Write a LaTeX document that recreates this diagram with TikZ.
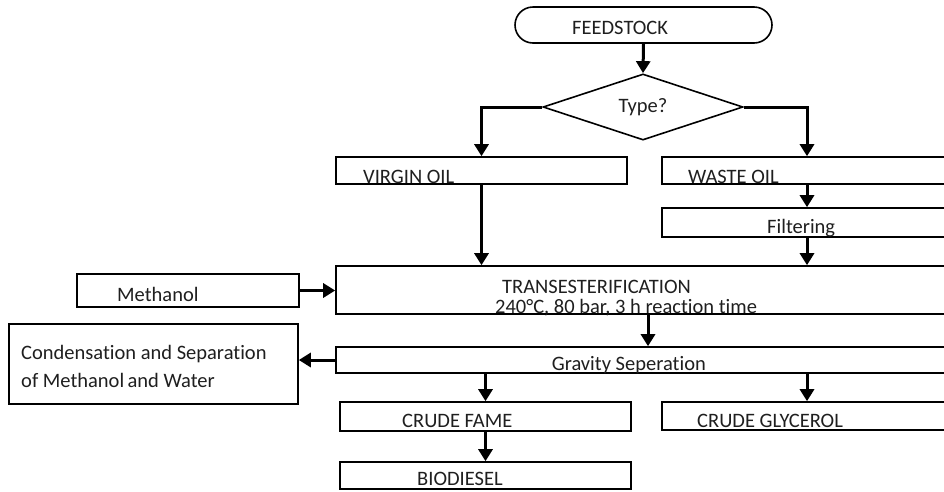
\documentclass[tikz,border=0pt]{standalone}
\usepackage{fontspec}
\setmainfont{Carlito}[RawFeature=-liga]
\usetikzlibrary{arrows.meta,shapes.geometric,shapes.misc}

\tikzset{
  box/.style={draw, line width=1.6pt, inner sep=0pt},
  txt/.style={inner sep=0pt, anchor=base west, text=black!88},
  flow/.style={line width=3pt, -{Triangle[width=14pt,length=12pt]}}
}

\begin{document}
\begin{tikzpicture}[x=1pt, y=-1pt, font=\fontsize{20.5}{28}\selectfont]
    \clip (0,0) rectangle (944,491);
    \fill[white] (0,0) rectangle (944,491);

    % start and decision
    \node[box, rounded rectangle, minimum width=257pt, minimum height=36pt] (feed) at (643.5,25) {};
    \node[txt] (feedtxt) at (572,34.5) {FEEDSTOCK};
    \node[box, diamond, minimum width=200pt, minimum height=57pt, text=black!88] (type) at (643,107) {Type?};

    % oil types
    \node[box, minimum width=291pt, minimum height=27pt] (virgin) at (481.5,170.5) {};
    \node[txt] (virgintxt) at (363,183) {VIRGIN OIL};
    \node[box, minimum width=290pt, minimum height=27pt] (waste) at (807,170.5) {};
    \node[txt] (wastetxt) at (688,183) {WASTE OIL};
    \node[box, minimum width=290pt, minimum height=29pt] (filter) at (807,222.5) {};
    \node[txt] (filtertxt) at (767,233) {Filtering};

    % reaction
    \node[box, minimum width=624pt, minimum height=48pt] (trans) at (648,290) {};
    \node[txt] (transtxt) at (502,293) {TRANSESTERIFICATION};
    \node[txt] (condtxt) at (495,313) {240°C, 80 bar, 3 h reaction time};
    \node[box, minimum width=222pt, minimum height=33pt] (meth) at (188,290.5) {};
    \node[txt] (methtxt) at (117,301) {Methanol};

    % separation
    \node[box, minimum width=624pt, minimum height=26pt] (grav) at (648,360) {};
    \node[txt, anchor=base east] (gravtxt) at (706,370) {Gravity Seperation};
    \node[box, minimum width=289pt, minimum height=80pt] (cond) at (153.5,364) {};
    \node[txt] (condtxta) at (21,359) {Condensation and Separation};
    \node[txt] (condtxtb) at (21,387) {of Methanol\,and Water};

    % products
    \node[box, minimum width=291pt, minimum height=29pt] (fame) at (485.5,416.5) {};
    \node[txt] (frametxt) at (402,427) {CRUDE FAME};
    \node[box, minimum width=291pt, minimum height=27pt] (bio) at (485.5,475.5) {};
    \node[txt] (biotxt) at (417,485) {BIODIESEL};
    \node[box, minimum width=290pt, minimum height=28pt] (glyc) at (807,416) {};
    \node[txt] (glyctxt) at (697,427) {CRUDE GLYCEROL};

    \draw[flow] (feed.south) -- (type.north);
    \draw[flow] (type.west) -| (virgin.north);
    \draw[flow] (type.east) -| (waste.north);
    \draw[flow] (virgin.south) -- (virgin.south |- trans.north);
    \draw[flow] (waste.south) -- (filter.north);
    \draw[flow] (filter.south) -- (filter.south |- trans.north);
    \draw[flow] (meth.east) -- (meth.east -| trans.west);
    \draw[flow] (trans.south) -- (grav.north);
    \draw[flow] (grav.west) -- (grav.west -| cond.east);
    \draw[flow] (fame.north |- grav.south) -- (fame.north);
    \draw[flow] (glyc.north |- grav.south) -- (glyc.north);
    \draw[flow] (fame.south) -- (bio.north);
\end{tikzpicture}
\end{document}
